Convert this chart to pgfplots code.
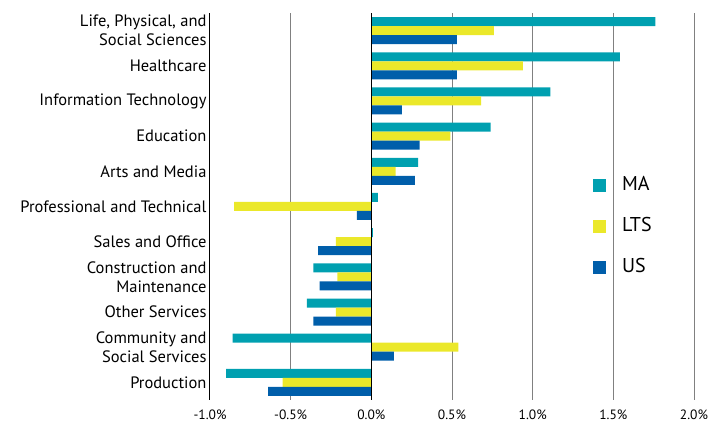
\documentclass[border=0pt]{standalone}
\usepackage{pgfplots}
\pgfplotsset{compat=1.18}
\usepackage{fontspec}
\setmainfont{PT Sans}
\definecolor{cMA}{RGB}{0,160,176}
\definecolor{cLTS}{RGB}{235,232,42}
\definecolor{cUS}{RGB}{0,94,170}
\begin{document}
\begin{tikzpicture}
\useasboundingbox (-210pt,-22pt) rectangle (501pt,400pt);
\begin{axis}[
 at={(0pt,0pt)}, anchor=south west,
 scale only axis, width=484pt, height=387pt,
 xbar, bar width=9pt,
 xmin=-1, xmax=2, ymin=-0.5, ymax=10.5,
 xtick={-1,-0.5,0,0.5,1,1.5,2},
 xticklabels={-1.0\%,-0.5\%,0.0\%,0.5\%,1.0\%,1.5\%,2.0\%},
 ytick={0,...,10},
 yticklabels={Production, {Community and\\Social Services}, Other Services, {Construction and\\Maintenance}, Sales and Office, Professional and Technical, Arts and Media, Education, Information Technology, Healthcare, {Life, Physical, and\\Social Sciences}},
 yticklabel style={align=right, font=\fontsize{16.5}{19}\selectfont},
 xticklabel style={font=\fontsize{13.5}{15}\selectfont, yshift=-6.5pt},
 major tick length=0pt,
 xmajorgrids, grid style={draw=black!50, line width=1pt},
 axis y line*=left, axis x line*=bottom,
 x axis line style={draw=none},
 y axis line style={black, line width=1pt},
 legend style={draw=none, fill=none, at={(0.791,0.583)}, anchor=north west,
   inner sep=0pt, row sep=19pt, font=\fontsize{20}{21}\selectfont,
   nodes={inner sep=2pt, text height=14pt, text depth=4pt},
   cells={anchor=west}},
]
\addplot[fill=cMA, draw=none, bar shift=9pt,
  legend image code/.code={\fill[cMA] (0pt,-6.5pt) rectangle (13pt,6.5pt); \path (27pt,0pt);}]
 coordinates {(1.76,10) (1.54,9) (1.11,8) (0.74,7) (0.29,6) (0.04,5) (0.01,4) (-0.36,3) (-0.40,2) (-0.86,1) (-0.90,0)};
\addlegendentry{MA}
\addplot[fill=cLTS, draw=none, bar shift=0pt,
  legend image code/.code={\fill[cLTS] (0pt,-6.5pt) rectangle (13pt,6.5pt); \path (27pt,0pt);}]
 coordinates {(0.76,10) (0.94,9) (0.68,8) (0.49,7) (0.15,6) (-0.85,5) (-0.22,4) (-0.21,3) (-0.22,2) (0.54,1) (-0.55,0)};
\addlegendentry{LTS}
\addplot[fill=cUS, draw=none, bar shift=-9pt,
  legend image code/.code={\fill[cUS] (0pt,-6.5pt) rectangle (13pt,6.5pt); \path (27pt,0pt);}]
 coordinates {(0.53,10) (0.53,9) (0.19,8) (0.30,7) (0.27,6) (-0.09,5) (-0.33,4) (-0.32,3) (-0.36,2) (0.14,1) (-0.64,0)};
\addlegendentry{US}
\draw[black, line width=1pt] (axis cs:0,-0.5) -- (axis cs:0,10.5);
\end{axis}
\end{tikzpicture}
\end{document}
